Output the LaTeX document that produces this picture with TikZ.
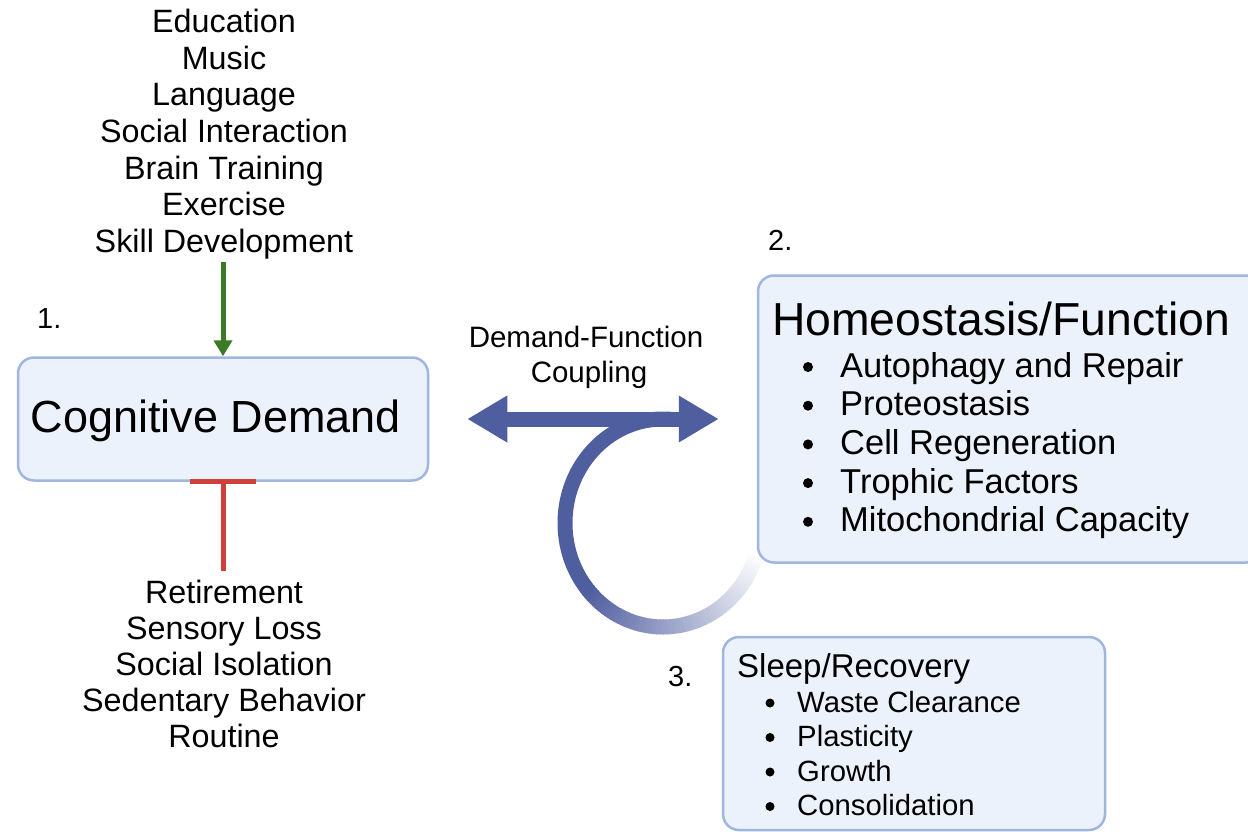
\documentclass[tikz,border=0pt]{standalone}
\usepackage{fontspec}
\setmainfont{Liberation Sans}
\usetikzlibrary{arrows.meta}
\definecolor{boxfill}{HTML}{ECF2FB}
\definecolor{boxline}{HTML}{A0B6E0}
\definecolor{arrowblue}{HTML}{4F5E9F}
\definecolor{actgreen}{HTML}{3B7B26}
\definecolor{inhred}{HTML}{CF3F3B}
\tikzset{
  box/.style={draw=boxline, fill=boxfill, line width=2.5pt, rounded corners=16pt, inner sep=0pt},
  lst/.style={font=\fontsize{32.3}{36}\selectfont, anchor=base, inner sep=0pt},
  numlbl/.style={font=\fontsize{29}{34}\selectfont, anchor=base west, inner sep=0pt},
  cpl/.style={font=\fontsize{29.5}{35}\selectfont, anchor=base, inner sep=0pt},
  hfitem/.style={font=\fontsize{34.5}{38}\selectfont, anchor=base west, inner sep=0pt},
  sritem/.style={font=\fontsize{29.3}{34}\selectfont, anchor=base west, inner sep=0pt},
  actarrow/.style={actgreen, line width=5pt, -{Triangle[length=16pt,width=18pt]}},
  inharrow/.style={inhred, line width=5pt, -{Bar[width=66pt]}},
  dblarrow/.style={arrowblue, line width=15pt, {Triangle[length=40pt,width=44pt]}-{Triangle[length=40pt,width=44pt]}},
  loopstroke/.style={line width=15pt}
}
\begin{document}
\begin{tikzpicture}[x=1pt,y=-1pt]
\fill[white] (0,0) rectangle (1248,832);
\useasboundingbox (0,0) rectangle (1248,832);
\clip (0,0) rectangle (1248,832);

% boxes
\node[box, minimum width=410pt, minimum height=123pt] (cd) at (223,419) {};
\node[box, minimum width=504pt, minimum height=287pt] (hf) at (1010,419) {};
\node[box, minimum width=382pt, minimum height=193pt] (sr) at (914,733.5) {};

% box 1
\node[font=\fontsize{45}{54}\selectfont, anchor=base, inner sep=0pt] (cdt) at (216,432) {Cognitive Demand};

% box 2
\node[font=\fontsize{46.3}{55}\selectfont, anchor=base west, inner sep=0pt] (hft) at (772,335) {Homeostasis/Function};
\foreach \t [count=\i] in {Autophagy and Repair, Proteostasis, Cell Regeneration, Trophic Factors, Mitochondrial Capacity}{
  \node[hfitem] (hfi\i) at (840,{377+38.7*(\i-1)}) {\t};
  \fill (808,{367+38.7*(\i-1)}) circle (5pt);
}

% box 3
\node[font=\fontsize{33}{40}\selectfont, anchor=base west, inner sep=0pt] (srt) at (737,677) {Sleep/Recovery};
\foreach \t [count=\i] in {Waste Clearance, Plasticity, Growth, Consolidation}{
  \node[sritem] (sri\i) at (797,{712+34.5*(\i-1)}) {\t};
  \fill (770,{703+34.5*(\i-1)}) circle (4.5pt);
}

% numbers
\node[numlbl] (n1) at (37,328) {1.};
\node[numlbl] (n2) at (768,250) {2.};
\node[numlbl] (n3) at (668,686) {3.};

% coupling label
\node[cpl] (cpl1) at (586,347) {Demand-Function};
\node[cpl] (cpl2) at (589,382) {Coupling};

% top list
\foreach \t [count=\i] in {Education, Music, Language, Social Interaction, Brain Training, Exercise, Skill Development}{
  \node[lst] (up\i) at (224,{33+36.5*(\i-1)}) {\t};
}
% bottom list
\foreach \t [count=\i] in {Retirement, Sensory Loss, Social Isolation, Sedentary Behavior, Routine}{
  \node[lst] (dn\i) at (224,{603+36*(\i-1)}) {\t};
}

% green activating arrow
\draw[actarrow, shorten <=3.5pt] (up7.south -| cd.north) -- (cd.north);
% red inhibition
\draw[inharrow, shorten <=8pt, shorten >=-3pt] (dn1.north -| cd.south) -- (cd.south);

% loop (fading)
\coordinate (loopc) at (663,523);
\draw[arrowblue, loopstroke] plot[domain=84:221, samples=90] ({663+98*cos(\x)},{523-104*sin(\x)});
\foreach \a in {220,222,...,338}{
  \pgfmathsetmacro\p{100*(1-(\a-220)/122)}
  \draw[arrowblue!\p!white, loopstroke] plot[domain=\a:\a+2.6, samples=4] ({663+98*cos(\x)},{523-104*sin(\x)});
}

% double arrow
\draw[dblarrow, shorten <=38pt, shorten >=38pt] (cd.east) -- (hf.west);
\end{tikzpicture}
\end{document}
